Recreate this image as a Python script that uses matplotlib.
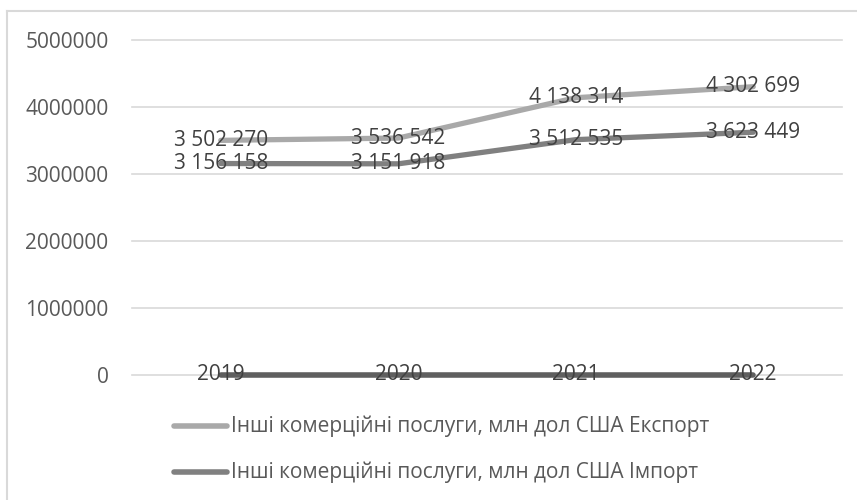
import matplotlib
matplotlib.use("Agg")
import matplotlib.pyplot as plt
from matplotlib.lines import Line2D

years = ["2019", "2020", "2021", "2022"]
export_vals = [3502270, 3536542, 4138314, 4302699]
import_vals = [3156158, 3151918, 3512535, 3623449]
zero_vals = [0, 0, 0, 0]
yticks = [0, 1000000, 2000000, 3000000, 4000000, 5000000]
export_label = "Інші комерційні послуги, млн дол США Експорт"
import_label = "Інші комерційні послуги, млн дол США Імпорт"

plt.rcParams['font.family'] = ['Open Sans', 'DejaVu Sans']

W, H = 857, 500
fig = plt.figure(figsize=(W / 100, H / 100), dpi=100)
fig.patch.set_facecolor("white")

def fx(px):
    return px / W

def fy(py):
    return 1 - py / H

# chart border (left and top edges visible; right/bottom run off the image)
fig.add_artist(Line2D([fx(7.5), fx(7.5)], [fy(10.5), fy(505)], color="#D9D9D9", linewidth=1.5,
                      transform=fig.transFigure))
fig.add_artist(Line2D([fx(7), fx(870)], [fy(10.5), fy(10.5)], color="#D9D9D9", linewidth=1.5,
                      transform=fig.transFigure))

ax = fig.add_axes([fx(132), fy(375), 710 / W, 335 / H])
ax.patch.set_alpha(0)
x = list(range(len(years)))
ax.set_xlim(-0.5, len(years) - 0.5)
ax.set_ylim(0, 5000000)

for v in yticks:
    ax.axhline(v, color="#D9D9D9", linewidth=1.2, zorder=1, clip_on=False)

ax.plot(x, zero_vals, color="#5F5F5F", linewidth=4.0, solid_capstyle="round", zorder=3, clip_on=False)
ax.plot(x, export_vals, color="#A9A9A9", linewidth=3.8, solid_capstyle="round", zorder=3)
ax.plot(x, import_vals, color="#808080", linewidth=3.8, solid_capstyle="round", zorder=3)

fmt = lambda v: f"{v:,}".replace(",", " ")
for xi, v in zip(x, export_vals):
    ax.text(xi, v, fmt(v), ha="center", va="center", fontsize=15, color="#404040", zorder=4)
for xi, v in zip(x, import_vals):
    ax.text(xi, v, fmt(v), ha="center", va="center", fontsize=15, color="#404040", zorder=4)

# category labels (sit on the zero line)
for xi, y in zip(x, years):
    ax.text(xi, 0, y, ha="center", va="center", fontsize=15, color="#404040", zorder=4)

ax.set_xticks([])
ax.set_yticks(yticks)
ax.set_yticklabels([str(v) for v in yticks], fontsize=15, color="#595959")
ax.tick_params(axis="y", length=0, pad=17)
for s in ax.spines.values():
    s.set_visible(False)

# legend drawn by hand
for (ly, col, lab) in [(426, "#A9A9A9", export_label), (472, "#808080", import_label)]:
    fig.add_artist(Line2D([fx(174), fx(227)], [fy(ly), fy(ly)], color=col, linewidth=4.0,
                          solid_capstyle="round", transform=fig.transFigure))
    fig.text(fx(231), fy(ly), lab, ha="left", va="center", fontsize=15, color="#595959")

fig.savefig("out.png", dpi=100)
